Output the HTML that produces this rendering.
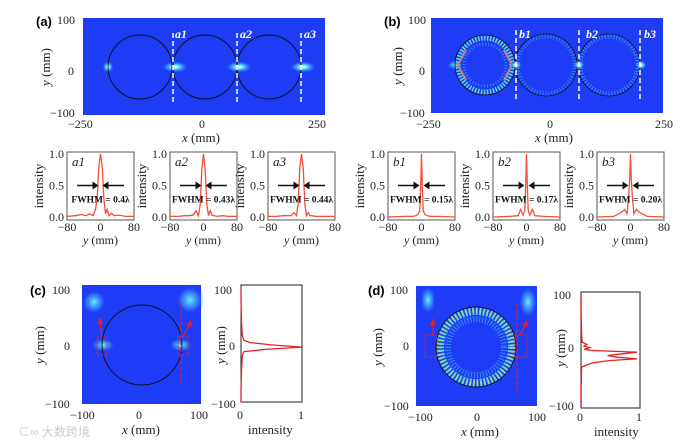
<!DOCTYPE html>
<html><head><meta charset="utf-8">
<style>
html,body{margin:0;padding:0;background:#fff;}
svg{display:block;font-family:"Liberation Serif",serif;}
.lab{font-family:"Liberation Sans",sans-serif;font-weight:bold;font-size:13px;}
.tk{font-size:12px;fill:#222;}
</style></head>
<body>
<svg id="fig" width="696" height="446" viewBox="0 0 696 446" xmlns="http://www.w3.org/2000/svg">
<defs>
<radialGradient id="glow" cx="50%" cy="50%" r="50%">
<stop offset="0" stop-color="#ffffff"/><stop offset="0.25" stop-color="#7ff7ff"/><stop offset="0.6" stop-color="#3aa0ff" stop-opacity="0.7"/><stop offset="1" stop-color="#1e3cf5" stop-opacity="0"/>
</radialGradient>
<radialGradient id="glow2" cx="50%" cy="50%" r="50%">
<stop offset="0" stop-color="#6ff0ff"/><stop offset="0.6" stop-color="#3a9cff" stop-opacity="0.6"/><stop offset="1" stop-color="#1e3cf5" stop-opacity="0"/>
</radialGradient>
</defs>

<!-- Panel A map -->
<g>
<rect x="83" y="18" width="242" height="97" fill="#1e3cf5"/>
<ellipse cx="108" cy="67" rx="6" ry="6" fill="url(#glow)"/>
<ellipse cx="175" cy="67" rx="14" ry="6" fill="url(#glow)"/>
<ellipse cx="239" cy="67" rx="14" ry="6" fill="url(#glow)"/>
<ellipse cx="303" cy="67" rx="14" ry="6" fill="url(#glow)"/>
<circle cx="140" cy="67" r="32" fill="none" stroke="#111" stroke-width="0.9"/>
<circle cx="205" cy="67" r="32" fill="none" stroke="#111" stroke-width="0.9"/>
<circle cx="269" cy="67" r="32" fill="none" stroke="#111" stroke-width="0.9"/>
<g stroke="#fff" stroke-width="1.5" stroke-dasharray="5,3">
<line x1="173" y1="33" x2="173" y2="104"/><line x1="237" y1="33" x2="237" y2="104"/><line x1="301" y1="33" x2="301" y2="104"/>
</g>
<g fill="#fff" font-style="italic" font-weight="bold" font-size="12"><text x="175" y="38">a1</text><text x="240" y="38">a2</text><text x="304" y="38">a3</text></g>
</g>
<text class="lab" x="36" y="26">(a)</text>
<g class="tk">
<text x="57" y="24">100</text><text x="68" y="75">0</text><text x="50" y="117">−100</text>
<text x="68" y="128">−250</text><text x="199" y="128">0</text><text x="308" y="128">250</text>
<text x="182" y="142" font-size="13"><tspan font-style="italic">x</tspan> (mm)</text>
<text transform="translate(50,67) rotate(-90)" text-anchor="middle" font-size="13"><tspan font-style="italic">y</tspan> (mm)</text>
</g>

<!-- Panel B map -->
<g>
<rect x="431" y="18" width="232" height="95" fill="#1e3cf5"/>
<ellipse cx="455" cy="65" rx="8" ry="5" fill="url(#glow2)"/>
<circle cx="485" cy="65" r="27" fill="none" stroke="#5ed8d0" stroke-width="5" stroke-dasharray="1.5,1.5"/>
<circle cx="485" cy="65" r="21" fill="none" stroke="#3ca0f0" stroke-width="3" stroke-dasharray="1,2" opacity="0.7"/>
<polyline points="466,50 458,65 466,80" fill="none" stroke="#c08080" stroke-width="2"/>
<polyline points="504,50 512,65 504,80" fill="none" stroke="#c08080" stroke-width="2"/>
<circle cx="546" cy="65" r="29" fill="none" stroke="#2f80f5" stroke-width="5" stroke-dasharray="1,2"/>
<circle cx="609" cy="65" r="29" fill="none" stroke="#3590f5" stroke-width="5" stroke-dasharray="1,2"/>
<circle cx="485" cy="65" r="30" fill="none" stroke="#111" stroke-width="0.8"/>
<circle cx="546" cy="65" r="31" fill="none" stroke="#111" stroke-width="0.8"/>
<circle cx="609" cy="65" r="31" fill="none" stroke="#111" stroke-width="0.8"/>
<ellipse cx="516" cy="65" rx="6" ry="5" fill="url(#glow)"/>
<ellipse cx="579" cy="65" rx="6" ry="5" fill="url(#glow)"/>
<ellipse cx="641" cy="65" rx="6" ry="5" fill="url(#glow)"/>
<g stroke="#fff" stroke-width="1.5" stroke-dasharray="5,3">
<line x1="516" y1="30" x2="516" y2="100"/><line x1="579" y1="30" x2="579" y2="100"/><line x1="640" y1="30" x2="640" y2="100"/>
</g>
<g fill="#fff" font-style="italic" font-weight="bold" font-size="12"><text x="519" y="38">b1</text><text x="586" y="38">b2</text><text x="644" y="38">b3</text></g>
</g>
<text class="lab" x="384" y="26">(b)</text>
<g class="tk">
<text x="408" y="24">100</text><text x="419" y="75">0</text><text x="400" y="117">−100</text>
<text x="416" y="128">−250</text><text x="547" y="128">0</text><text x="655" y="128">250</text>
<text x="535" y="142" font-size="13"><tspan font-style="italic">x</tspan> (mm)</text>
<text transform="translate(402,66) rotate(-90)" text-anchor="middle" font-size="13"><tspan font-style="italic">y</tspan> (mm)</text>
</g>

<!-- Panel C -->
<g>
<rect x="82" y="285" width="119" height="119" fill="#1e3cf5"/>
<ellipse cx="94" cy="302" rx="12" ry="12" fill="url(#glow2)"/>
<ellipse cx="190" cy="300" rx="14" ry="14" fill="url(#glow2)"/>
<ellipse cx="103" cy="345" rx="12" ry="7" fill="url(#glow2)"/>
<ellipse cx="181" cy="345" rx="12" ry="7" fill="url(#glow2)"/>
<circle cx="142" cy="345" r="40" fill="none" stroke="#111" stroke-width="0.9"/>
<rect x="97" y="337" width="10" height="18" fill="none" stroke="#e02030" stroke-width="1" stroke-dasharray="2,1.5"/>
<rect x="178" y="337" width="10" height="18" fill="none" stroke="#e02030" stroke-width="1" stroke-dasharray="2,1.5"/>
<line x1="181" y1="302" x2="181" y2="388" stroke="#e02030" stroke-width="1.2" stroke-dasharray="4,2.5"/>
<line x1="102" y1="337" x2="100" y2="322" stroke="#e02030" stroke-width="1.3"/><polygon points="100,317 97,324 103,324" fill="#e02030"/>
<line x1="183" y1="337" x2="189" y2="325" stroke="#e02030" stroke-width="1.3"/><polygon points="191,320 186,325 192,327" fill="#e02030"/>
</g>
<text class="lab" x="30" y="295">(c)</text>
<g class="tk">
<text x="52" y="294">100</text><text x="64" y="350">0</text><text x="45" y="408">−100</text>
<text x="70" y="419">−100</text><text x="136" y="419">0</text><text x="190" y="419">100</text>
<text x="122" y="434" font-size="13"><tspan font-style="italic">x</tspan> (mm)</text>
<text transform="translate(44,345) rotate(-90)" text-anchor="middle" font-size="13"><tspan font-style="italic">y</tspan> (mm)</text>
<text x="214" y="294">100</text><text x="229" y="350">0</text><text x="211" y="408">−100</text>
<text x="237" y="419">0</text><text x="298" y="419">1</text>
<text x="248" y="434" font-size="13">intensity</text>
<text transform="translate(225,345) rotate(-90)" text-anchor="middle" font-size="13"><tspan font-style="italic">y</tspan> (mm)</text>
</g>
<rect x="241" y="285" width="61" height="117" fill="none" stroke="#222" stroke-width="1"/>

<!-- Panel D -->
<g>
<rect x="416" y="286" width="121" height="120" fill="#1e3cf5"/>
<ellipse cx="428" cy="300" rx="8" ry="14" fill="url(#glow2)"/>
<ellipse cx="528" cy="302" rx="9" ry="16" fill="url(#glow2)"/>
<circle cx="476" cy="347" r="36" fill="none" stroke="#5ed8d0" stroke-width="8" stroke-dasharray="2,1.6"/>
<circle cx="476" cy="347" r="36" fill="none" stroke="#e8d040" stroke-width="3" stroke-dasharray="1,2.6" opacity="0.8"/>
<circle cx="476" cy="347" r="28" fill="none" stroke="#3890f0" stroke-width="6" stroke-dasharray="1,2"/>
<circle cx="476" cy="347" r="40" fill="none" stroke="#111" stroke-width="0.9"/>
<rect x="425" y="335" width="12" height="22" fill="none" stroke="#e02030" stroke-width="1" stroke-dasharray="2,1.5"/>
<rect x="515" y="335" width="12" height="22" fill="none" stroke="#e02030" stroke-width="1" stroke-dasharray="2,1.5"/>
<line x1="517" y1="303" x2="517" y2="392" stroke="#e02030" stroke-width="1.2" stroke-dasharray="4,2.5"/>
<line x1="433" y1="335" x2="433" y2="324" stroke="#e02030" stroke-width="1.3"/><polygon points="433,318 430,325 436,325" fill="#e02030"/>
<line x1="520" y1="335" x2="525" y2="325" stroke="#e02030" stroke-width="1.3"/><polygon points="527,320 522,325 528,327" fill="#e02030"/>
</g>
<text class="lab" x="368" y="295">(d)</text>
<g class="tk">
<text x="390" y="294">100</text><text x="403" y="350">0</text><text x="384" y="410">−100</text>
<text x="408" y="421">−100</text><text x="474" y="421">0</text><text x="528" y="421">100</text>
<text x="461" y="436" font-size="13"><tspan font-style="italic">x</tspan> (mm)</text>
<text transform="translate(382,347) rotate(-90)" text-anchor="middle" font-size="13"><tspan font-style="italic">y</tspan> (mm)</text>
<text x="553" y="299">100</text><text x="568" y="352">0</text><text x="549" y="410">−100</text>
<text x="577" y="421">0</text><text x="636" y="421">1</text>
<text x="594" y="436" font-size="13">intensity</text>
<text transform="translate(565,348) rotate(-90)" text-anchor="middle" font-size="13"><tspan font-style="italic">y</tspan> (mm)</text>
</g>
<rect x="581" y="292" width="59" height="116" fill="none" stroke="#444" stroke-width="1.2"/>

<g id="profiles"></g>
<g><text x="18" y="436" fill="#ccc" font-family="'Liberation Sans','Noto Sans CJK SC',sans-serif" font-size="12">⊂∞ 大数跨境</text></g>
</svg>

<script>
// small-plot profile data (position in mm, normalized intensity)
const xsA = [-80,-60,-45,-35,-25,-18,-12,-8,-4,0,4,8,12,16,20,26,32,45,60,80];
const a1 = [0.01,0.02,0.04,0.02,0.05,0.02,0.12,0.3,0.8,1,0.8,0.3,0.05,0.12,0.02,0.06,0.02,0.03,0.01,0.01];
const a2 = [0.01,0.01,0.02,0.02,0.03,0.1,0.02,0.2,0.75,1,0.75,0.2,0.02,0.1,0.03,0.02,0.01,0.02,0.01,0.01];
const a3 = [0.01,0.01,0.02,0.02,0.02,0.07,0.02,0.2,0.78,1,0.78,0.2,0.02,0.07,0.02,0.02,0.01,0.01,0.01,0.01];
const xsB = [-80,-40,-20,-14,-8,-4,-2,0,2,4,8,14,20,40,80];
const b1 = [0,0.01,0.01,0.02,0.04,0.1,0.5,1,0.5,0.1,0.04,0.02,0.01,0.01,0];
const b2 = [0,0.01,0.02,0.12,0.03,0.1,0.5,1,0.5,0.1,0.03,0.12,0.02,0.01,0];
const b3 = [0,0.01,0.08,0.12,0.05,0.35,0.6,1,0.6,0.35,0.05,0.12,0.08,0.01,0];
const fwhmLabels = ["FWHM = 0.4λ","FWHM = 0.43λ","FWHM = 0.44λ","FWHM = 0.15λ","FWHM = 0.17λ","FWHM = 0.20λ"];
const plotNames = ["a1","a2","a3","b1","b2","b3"];
const smallTicksX = [-80,0,80];
const smallTicksY = [0,0.5,1];
const smallTickLabelsY = ["0.0","0.5","1.0"];
// line profiles for (c) and (d): y position (mm) vs intensity
const cY = [-100,-80,-40,-20,-14,-10,-6,-2,2,6,10,16,20,40,80,100];
const cI = [0,0,0.01,0.02,0.03,0.05,0.4,1,0.5,0.15,0.05,0.03,0.02,0.01,0,0];
const dY = [-100,-80,-30,-26,-22,-18,-15,-12,-9,-6,-3,0,2,5,8,11,15,30,80,100];
const dI = [0,0,0.01,0.1,0.2,0.5,0.95,0.6,0.45,0.7,0.95,0.2,0.05,0.15,0.05,0.1,0.02,0.01,0,0];

const NS = "http://www.w3.org/2000/svg";
const profRoot = document.getElementById('profiles');
function mk(tag, attrs, parent){ const e=document.createElementNS(NS,tag); for(const k in attrs) e.setAttribute(k,attrs[k]); (parent||profRoot).appendChild(e); return e; }

const boxesX = [67,170,268,388,493,597];
const series = [[xsA,a1],[xsA,a2],[xsA,a3],[xsB,b1],[xsB,b2],[xsB,b3]];
const boxW = 67, boxTop = 152, boxBot = 220, yZero = 217, yOne = 154;
series.forEach((s,i)=>{
  const bx = boxesX[i];
  const sx = v => bx + (v+80)/160*boxW;
  const sy = v => yZero - v*(yZero-yOne);
  const g = mk('g',{});
  
  
  const fr = mk('rect',{x:bx,y:boxTop,width:boxW,height:boxBot-boxTop,fill:'none',stroke:'#555','stroke-width':1},g);
  
  
  const pts = s[0].map((v,j)=>sx(v).toFixed(1)+','+sy(s[1][j]).toFixed(1)).join(' ');
  const pl = mk('polyline',{points:pts,fill:'none',stroke:'#f0503a','stroke-width':1.3},g);
  
  
  smallTicksX.forEach(t=>{
    const tx = mk('text',{x:sx(t),y:231,'text-anchor':'middle','font-size':12,fill:'#222'},g);
    tx.textContent = t<0 ? '−'+(-t) : String(t);
  });
  smallTicksY.forEach((t,j)=>{
    const ty = mk('text',{x:bx-3,y:sy(t)+4,'text-anchor':'end','font-size':12,fill:'#222'},g);
    ty.textContent = smallTickLabelsY[j];
  });
  const yl = mk('text',{transform:'translate('+(bx-24)+','+((boxTop+boxBot)/2)+') rotate(-90)','text-anchor':'middle','font-size':13,fill:'#222'},g);
  yl.textContent = 'intensity';
  const xl = mk('text',{x:bx+boxW/2,y:244,'text-anchor':'middle','font-size':12,fill:'#222'},g);
  const it = mk('tspan',{'font-style':'italic'},xl); it.textContent='y';
  const rest = mk('tspan',{},xl); rest.textContent=' (mm)';
  const nm = mk('text',{x:bx+5,y:boxTop+14,'font-size':13,'font-style':'italic',fill:'#222'},g);
  nm.textContent = plotNames[i];
  const cx = sx(0), ay = sy(0.5);
  mk('line',{x1:bx+10,y1:ay,x2:cx-6,y2:ay,stroke:'#111','stroke-width':1.5},g);
  mk('polygon',{points:(cx-2)+','+ay+' '+(cx-8)+','+(ay-4)+' '+(cx-8)+','+(ay+4),fill:'#111'},g);
  mk('line',{x1:bx+boxW-10,y1:ay,x2:cx+6,y2:ay,stroke:'#111','stroke-width':1.5},g);
  mk('polygon',{points:(cx+2)+','+ay+' '+(cx+8)+','+(ay-4)+' '+(cx+8)+','+(ay+4),fill:'#111'},g);
  const fw = mk('text',{x:bx+boxW/2,y:ay+17,'text-anchor':'middle','font-size':9.5,'font-weight':'bold',fill:'#111'},g);
  fw.textContent = fwhmLabels[i];
});

function lineProfile(ys, is, x0, x1, yT, yB, name){
  const px = v => x0 + v*(x1-x0);
  const py = v => yT + (100-v)/200*(yB-yT);
  const pts = ys.map((v,j)=>px(is[j]).toFixed(1)+','+py(v).toFixed(1)).join(' ');
  const pl = mk('polyline',{points:pts,fill:'none',stroke:'#e82020','stroke-width':1.3});
  
  
}
lineProfile(cY, cI, 241, 302, 290, 402, 'panel-c-intensity-line');
lineProfile(dY, dI, 581, 640, 295, 406, 'panel-d-intensity-line');
</script>
</body></html>
